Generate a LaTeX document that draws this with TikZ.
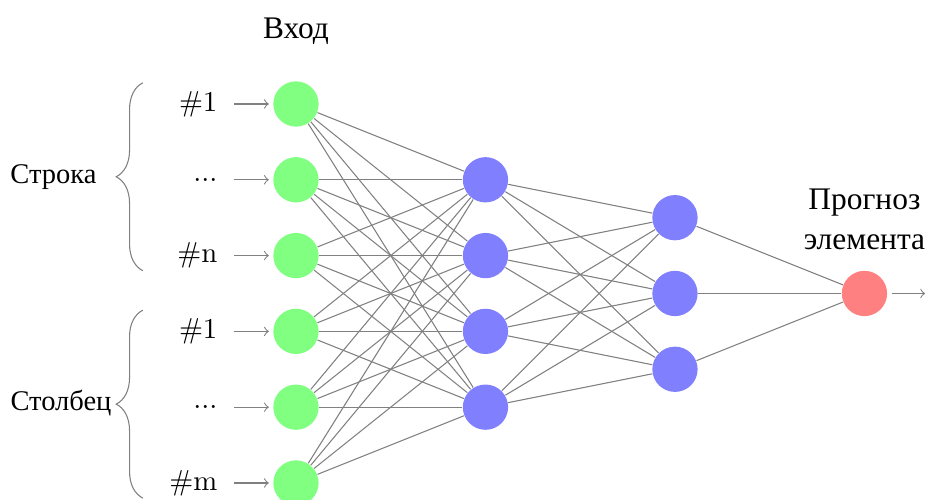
\documentclass[tikz,border=0pt]{standalone}
\usepackage{fontspec}
\newfontfamily\cyrfont{Liberation Serif}
\usetikzlibrary{decorations.pathreplacing}
\begin{document}
\begin{tikzpicture}[
  neuron/.style={circle, minimum size=17pt, inner sep=0pt},
  inneuron/.style={neuron, fill=green!50},
  hidneuron/.style={neuron, fill=blue!50},
  outneuron/.style={neuron, fill=red!50},
  conn/.style={draw=black!50, line width=0.4pt},
  inarrow/.style={->, draw=black!50, line width=0.4pt, shorten >=1.5pt},
  bracestyle/.style={draw=black!50, line width=0.4pt, decorate, decoration={brace, amplitude=10pt}},
  numlbl/.style={font=\fontsize{10.8pt}{13pt}\selectfont, inner sep=0pt},
  biglbl/.style={font=\cyrfont\fontsize{11.8pt}{15pt}\selectfont, inner sep=0pt},
  smalllbl/.style={font=\cyrfont\fontsize{10.7pt}{12pt}\selectfont, inner sep=0pt},
]
\useasboundingbox (-3.905,1.372) rectangle (8.325,-5.224);

% input layer
\node[inneuron] (I1) at (0,0) {};
\node[inneuron] (I2) at (0,-1) {};
\node[inneuron] (I3) at (0,-2) {};
\node[inneuron] (I4) at (0,-3) {};
\node[inneuron] (I5) at (0,-4) {};
\node[inneuron] (I6) at (0,-5) {};

% hidden layer 1
\node[hidneuron] (H1) at (2.5,-1) {};
\node[hidneuron] (H2) at (2.5,-2) {};
\node[hidneuron] (H3) at (2.5,-3) {};
\node[hidneuron] (H4) at (2.5,-4) {};

% hidden layer 2
\node[hidneuron] (G1) at (5,-1.5) {};
\node[hidneuron] (G2) at (5,-2.5) {};
\node[hidneuron] (G3) at (5,-3.5) {};

% output
\node[outneuron] (O) at (7.5,-2.5) {};

% connections
\foreach \s in {1,...,6}
  \foreach \d in {1,...,4}
    \path[conn] (I\s) -- (H\d);
\foreach \s in {1,...,4}
  \foreach \d in {1,...,3}
    \path[conn] (H\s) -- (G\d);
\foreach \s in {1,...,3}
  \path[conn] (G\s) -- (O);

% input arrows and labels
\foreach \i/\y in {1/0,2/-1,3/-2,4/-3,5/-4,6/-5}{
  \coordinate (a\i) at (-0.818,\y);
  \draw[inarrow] (a\i) -- (I\i);
}
\node[numlbl, anchor=east] (L1) at (-1.03,0) {\#1};
\node[numlbl, anchor=east] (L2) at (-1.03,-1) {...};
\node[numlbl, anchor=east] (L3) at (-1.03,-2) {\#n};
\node[numlbl, anchor=east] (L4) at (-1.03,-3) {\#1};
\node[numlbl, anchor=east] (L5) at (-1.03,-4) {...};
\node[numlbl, anchor=east] (L6) at (-1.03,-5) {\#m};

% output arrow
\coordinate (oend) at (8.30,-2.5);
\draw[->, draw=black!50, line width=0.4pt, shorten <=1.5pt] (O) -- (oend);

% braces
\coordinate (b1s) at (-2.02,-2.2);
\coordinate (b1e) at (-2.02,0.28);
\coordinate (b2s) at (-2.02,-5.2);
\coordinate (b2e) at (-2.02,-2.72);
\draw[bracestyle] (b1s) -- (b1e);
\draw[bracestyle] (b2s) -- (b2e);
\node[smalllbl, anchor=base] (row) at (-3.2,-1.055) {Строка};
\node[smalllbl, anchor=base] (col) at (-3.10,-4.04) {Столбец};

% titles
\node[biglbl, anchor=base] (inlbl) at (0,0.87) {Вход};
\node[biglbl, align=center] (outlbl) at (7.5,-1.517) {Прогноз\\ элемента};
\end{tikzpicture}
\end{document}
